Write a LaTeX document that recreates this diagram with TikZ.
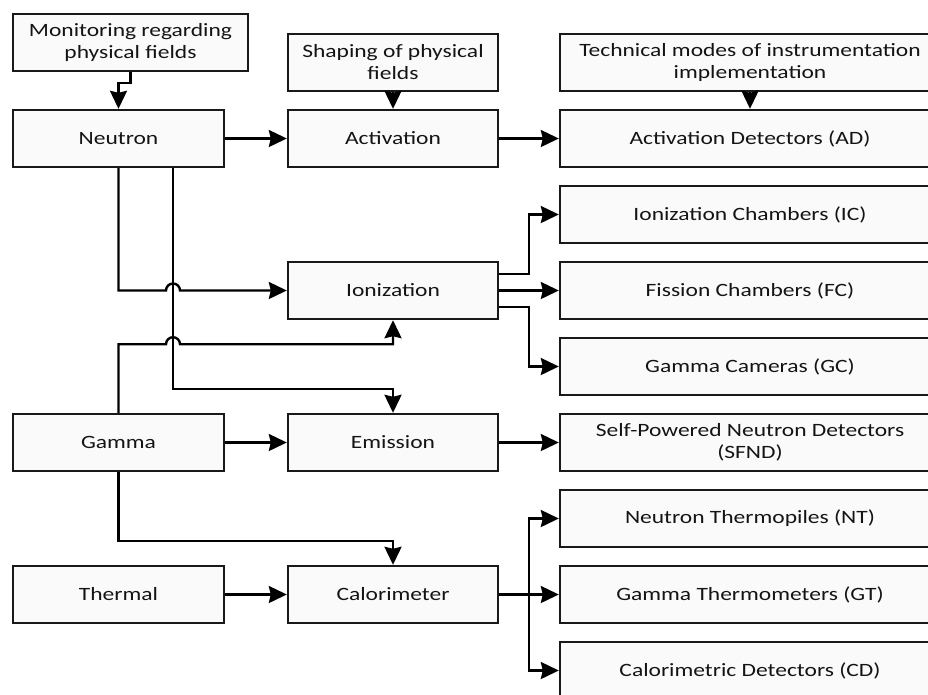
\documentclass[tikz,border=0pt]{standalone}
\usepackage{fontspec}
\setmainfont[FakeStretch=1.25]{Carlito}
\usetikzlibrary{arrows.meta,calc}
\begin{document}
\begin{tikzpicture}[x=1pt,y=-1pt,
  box/.style={draw=black!90, line width=2.4pt, fill=black!2, inner sep=0pt, align=center,
    minimum height=57pt, font=\fontsize{18.8}{22}\selectfont, text=black!92},
  lbox/.style={box, minimum width=211pt},
  mbox/.style={box, minimum width=210pt},
  rbox/.style={box, minimum width=380pt},
  arr/.style={line width=2.4pt, -{Stealth[length=18pt,width=17pt,inset=2pt]}},
  ln/.style={line width=2.4pt}]
\useasboundingbox (0,0) rectangle (928,694);
% nodes
\node[box, minimum width=235pt] (mon) at (130.5,42.5) {Monitoring regarding\\physical fields};
\node[mbox] (shape) at (393,62.5) {Shaping of physical\\fields};
\node[rbox] (tech) at (750,62.5) {Technical modes of instrumentation\\implementation};
\node[lbox] (neutron) at (118.5,138.5) {Neutron};
\node[mbox] (activ) at (393,138.5) {Activation};
\node[rbox] (ad) at (750,138.5) {Activation Detectors (AD)};
\node[rbox] (ic) at (750,214.5) {Ionization Chambers (IC)};
\node[mbox] (ioniz) at (393,290.5) {Ionization};
\node[rbox] (fc) at (750,290.5) {Fission Chambers (FC)};
\node[rbox] (gc) at (750,366.5) {Gamma Cameras (GC)};
\node[lbox] (gamma) at (118.5,442.5) {Gamma};
\node[mbox] (emis) at (393,442.5) {Emission};
\node[rbox] (sfnd) at (750,442.5) {Self-Powered Neutron Detectors\\(SFND)};
\node[rbox] (nt) at (750,518.5) {Neutron Thermopiles (NT)};
\node[lbox] (thermal) at (118.5,594.5) {Thermal};
\node[mbox] (calor) at (393,594.5) {Calorimeter};
\node[rbox] (gt) at (750,594.5) {Gamma Thermometers (GT)};
\node[rbox] (cd) at (750,670.5) {Calorimetric Detectors (CD)};
% helper coordinates
\coordinate (xb) at (173,0);
\coordinate (xd) at (529,0);
\coordinate (k1) at ($(emis.north)+(0,-24)$);
\coordinate (k2) at ($(ioniz.south)+(0,24)$);
\coordinate (k3) at ($(calor.north)+(0,-24)$);
% connectors
\draw[arr] (mon.south) -- ++(0,11) -| (neutron.north);
\draw[arr] (shape.south) -- (activ.north);
\draw[arr] (tech.south) -- (ad.north);
\draw[arr] (neutron.east) -- (activ.west);
\draw[arr] (activ.east) -- (ad.west);
\draw[arr] (neutron.south) |- ($(xb |- ioniz.west)+(-7,0)$) arc[start angle=180,end angle=360,radius=7] -- (ioniz.west);
\draw[arr] (neutron.south -| xb) |- (k1) -- (emis.north);
\draw[arr] (gamma.north) |- ($(xb |- k2)+(-7,0)$) arc[start angle=180,end angle=360,radius=7] -| (ioniz.south);
\draw[arr] (gamma.east) -- (emis.west);
\draw[arr] (emis.east) -- (sfnd.west);
\draw[arr] (gamma.south) |- (k3) -- (calor.north);
\draw[arr] (thermal.east) -- (calor.west);
\draw[arr] ($(ioniz.east)+(0,-16.5)$) -| (xd |- ic.west) -- (ic.west);
\draw[arr] (ioniz.east) -- (fc.west);
\draw[arr] ($(ioniz.east)+(0,16.5)$) -| (xd |- gc.west) -- (gc.west);
\draw[ln] (calor.east) -- (xd |- calor.east);
\draw[arr] (xd |- calor.east) |- (nt.west);
\draw[arr] (xd |- calor.east) |- (cd.west);
\draw[arr] (calor.east) -- (gt.west);
\end{tikzpicture}
\end{document}
